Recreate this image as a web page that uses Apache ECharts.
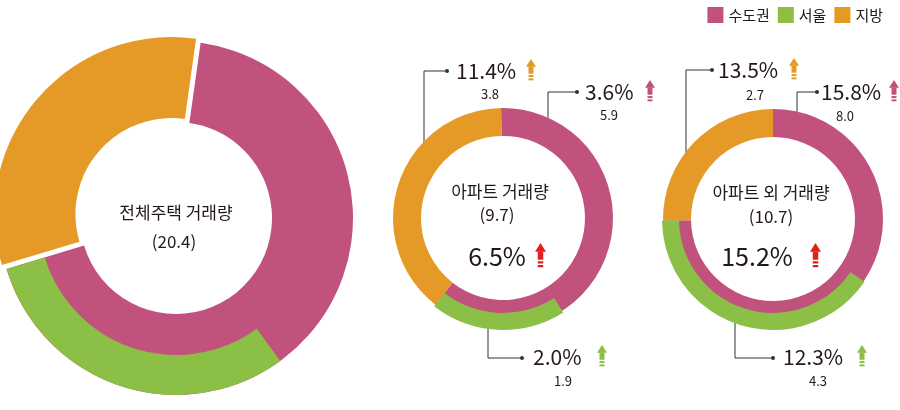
<!DOCTYPE html>
<html><head><meta charset="utf-8">
<script src="https://cdn.jsdelivr.net/npm/echarts@6/dist/echarts.min.js"></script>
<style>html,body{margin:0;padding:0;background:#fff}#c{width:900px;height:410px}</style>
</head><body><div id="c"></div>
<script>
const groups = ['전체주택 거래량', '아파트 거래량', '아파트 외 거래량'];
const totals = [20.4, 9.7, 10.7];
const metro = [13.9, 5.9, 8.0];
const seoul = [6.2, 1.9, 4.3];
const local = [6.5, 3.8, 2.7];
const totalChg = [null, 6.5, 15.2];
const metroChg = [null, 3.6, 15.8];
const seoulChg = [null, 2.0, 12.3];
const localChg = [null, 11.4, 13.5];
const seriesNames = ['수도권', '서울', '지방'];

const PINK = '#C1527D', GREEN = '#8BBF45', ORANGE = '#E59A27', RED = '#E0211B';
const FONT = '"Noto Sans CJK KR", "Noto Sans", sans-serif';
const chart = echarts.init(document.getElementById('c'));

const layout = [
  {c: [176, 218], r: [96, 177], g: [137, 177], start: 82, off: 6},
  {c: [503, 218], r: [82, 110], g: [95, 112], start: 91, off: 0},
  {c: [773, 219], r: [82, 110], g: [94, 111], start: 90, off: 0}
];
const series = [];
groups.forEach((g, i) => {
  const L = layout[i];
  series.push({
    type: 'pie', center: L.c, radius: L.r, startAngle: L.start, clockwise: true,
    silent: true, label: {show: false}, labelLine: {show: false}, z: 2,
    selectedMode: L.off ? 'single' : false, selectedOffset: L.off,
    emphasis: {disabled: true}, animation: false,
    data: [
      {name: seriesNames[0], value: metro[i], itemStyle: {color: PINK}},
      {name: seriesNames[2], value: local[i], itemStyle: {color: ORANGE}, selected: !!L.off}
    ]
  });
  series.push({
    type: 'pie', center: L.c, radius: L.g, startAngle: L.start, clockwise: true,
    silent: true, label: {show: false}, labelLine: {show: false}, z: 3,
    emphasis: {disabled: true}, animation: false, legendHoverLink: false,
    data: [
      {name: '_a' + i, value: +(metro[i] - seoul[i]).toFixed(1), itemStyle: {color: 'rgba(0,0,0,0)'}},
      {name: seriesNames[1], value: seoul[i], itemStyle: {color: GREEN}},
      {name: '_b' + i, value: local[i], itemStyle: {color: 'rgba(0,0,0,0)'}}
    ]
  });
});

const gfx = [];
function txt(x, y, s, size, align) {
  gfx.push({type: 'text', x: x, y: y, style: {text: s, fontSize: size, fontFamily: FONT, fill: '#231815', align: align || 'center', verticalAlign: 'middle'}});
}
function arrow(x, y, color, w, h) {
  const hw = w / 2, sh = w * 0.25;
  gfx.push({type: 'group', x: x, y: y, children: [
    {type: 'polygon', shape: {points: [[0, h * 0.35], [hw, 0], [w, h * 0.35]]}, style: {fill: color}},
    {type: 'rect', shape: {x: hw - sh, y: h * 0.34, width: sh * 2, height: h * 0.33}, style: {fill: color}},
    {type: 'rect', shape: {x: hw - sh, y: h * 0.73, width: sh * 2, height: h * 0.09}, style: {fill: color}},
    {type: 'rect', shape: {x: hw - sh, y: h * 0.88, width: sh * 2, height: h * 0.09}, style: {fill: color}}
  ]});
}
function leader(pts) {
  const e = pts[pts.length - 1];
  gfx.push({type: 'polyline', shape: {points: pts}, style: {stroke: '#333', lineWidth: 1, fill: null}});
  gfx.push({type: 'circle', shape: {cx: e[0], cy: e[1], r: 2}, style: {fill: '#333'}});
}
// left chart
txt(176, 213, groups[0], 17); txt(174, 242, '(' + totals[0] + ')', 17);
txt(313, 218, metro[0].toFixed(1), 22); txt(45, 157, local[0].toFixed(1), 22); txt(176, 378, seoul[0].toFixed(1), 22);
// middle chart
txt(500, 192, groups[1], 17); txt(497, 215, '(' + totals[1] + ')', 17);
txt(497, 256, totalChg[1].toFixed(1) + '%', 25); arrow(535, 243, RED, 11, 25);
leader([[424, 157], [424, 71], [447, 71]]); txt(456, 71, localChg[1].toFixed(1) + '%', 21, 'left'); arrow(526, 59, ORANGE, 10, 22); txt(490, 94, local[1].toFixed(1), 13);
leader([[548, 118], [548, 92], [577, 92]]); txt(585, 92, metroChg[1].toFixed(1) + '%', 21, 'left'); arrow(645, 80, PINK, 10, 22); txt(609, 115, metro[1].toFixed(1), 13);
leader([[488, 322], [488, 358], [522, 358]]); txt(533, 357, seoulChg[1].toFixed(1) + '%', 21, 'left'); arrow(597, 345, GREEN, 10, 22); txt(563, 381, seoul[1].toFixed(1), 13);
// right chart
txt(771, 193, groups[2], 17); txt(771, 217, '(' + totals[2] + ')', 17);
txt(757, 256, totalChg[2].toFixed(1) + '%', 25); arrow(810, 243, RED, 11, 25);
leader([[686, 155], [686, 70], [712, 70]]); txt(718, 70, localChg[2].toFixed(1) + '%', 21, 'left'); arrow(789, 58, ORANGE, 10, 22); txt(755, 95, local[2].toFixed(1), 13);
leader([[797, 122], [797, 92], [817, 92]]); txt(821, 92, metroChg[2].toFixed(1) + '%', 21, 'left'); arrow(889, 80, PINK, 10, 22); txt(845, 116, metro[2].toFixed(1), 13);
leader([[735, 315], [735, 358], [773, 358]]); txt(783, 357, seoulChg[2].toFixed(1) + '%', 21, 'left'); arrow(857, 345, GREEN, 10, 22); txt(818, 381, seoul[2].toFixed(1), 13);

chart.setOption({
  animation: false,
  legend: {data: seriesNames, top: 2, right: 12, icon: 'rect', itemWidth: 16, itemHeight: 16, itemGap: 8,
    selectedMode: false, textStyle: {fontSize: 15, fontFamily: FONT, color: '#231815'}},
  series: series,
  graphic: gfx
});
</script></body></html>
